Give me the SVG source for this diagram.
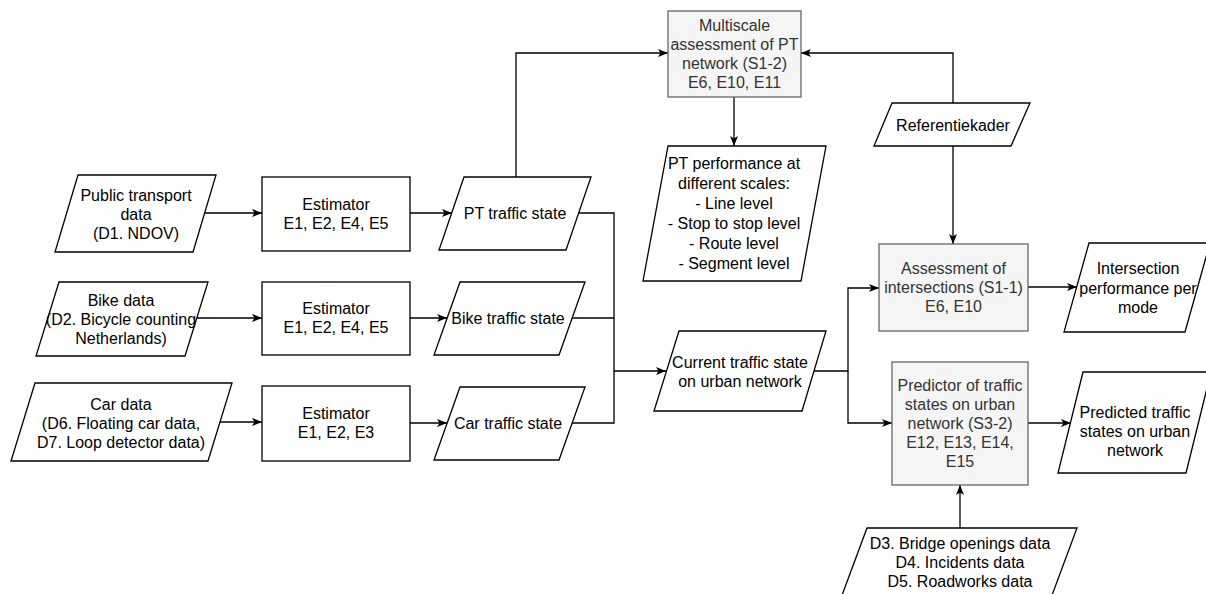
<svg xmlns="http://www.w3.org/2000/svg" width="1206" height="594" viewBox="0 0 1206 594">
  <style>
    .shape { fill: #ffffff; stroke: #000000; stroke-width: 1.3; }
    .proc { fill: #f5f5f5; stroke: #666666; stroke-width: 1.3; }
    .label { font-family: "Liberation Sans", Arial, sans-serif; font-size: 16px; fill: #000000; text-anchor: middle; }
    .label-gray { font-family: "Liberation Sans", Arial, sans-serif; font-size: 16px; fill: #333333; text-anchor: middle; }
    .edge { fill: none; stroke: #000000; stroke-width: 1.3; }
  </style>
  <defs>
    <marker id="arrow" viewBox="0 0 10 8" refX="10" refY="4" markerWidth="10" markerHeight="8" markerUnits="userSpaceOnUse" orient="auto">
      <path d="M0,0 L10,4 L0,8 L2.5,4 Z" fill="#000000"/>
    </marker>
  </defs>
  <rect width="1206" height="594" fill="#ffffff"/>

  <!-- connectors -->
  <g id="connectors">
    <path class="edge" d="M205,213 H262" marker-end="url(#arrow)"/>
    <path class="edge" d="M197,318 H262" marker-end="url(#arrow)"/>
    <path class="edge" d="M220,422 H262" marker-end="url(#arrow)"/>
    <path class="edge" d="M410,213 H452" marker-end="url(#arrow)"/>
    <path class="edge" d="M410,318 H447" marker-end="url(#arrow)"/>
    <path class="edge" d="M410,423 H447" marker-end="url(#arrow)"/>
    <path class="edge" d="M516,177 V53 H668" marker-end="url(#arrow)"/>
    <path class="edge" d="M579,213 H614 V371 H666" marker-end="url(#arrow)"/>
    <path class="edge" d="M572,318 H614"/>
    <path class="edge" d="M572,423 H614 V371"/>
    <path class="edge" d="M734,97 V146" marker-end="url(#arrow)"/>
    <path class="edge" d="M953,103 V53 H801" marker-end="url(#arrow)"/>
    <path class="edge" d="M953,146 V244" marker-end="url(#arrow)"/>
    <path class="edge" d="M814,371 H848 V288 H879" marker-end="url(#arrow)"/>
    <path class="edge" d="M848,371 V423 H892" marker-end="url(#arrow)"/>
    <path class="edge" d="M1028,287 H1077" marker-end="url(#arrow)"/>
    <path class="edge" d="M1028,423 H1071" marker-end="url(#arrow)"/>
    <path class="edge" d="M960,528 V485" marker-end="url(#arrow)"/>
  </g>

  <!-- data sources -->
  <g id="pt-data">
    <polygon class="shape" points="78,175 216,175 193,252 55,252"/>
    <text class="label" x="136" y="201">Public transport</text>
    <text class="label" x="136" y="220">data</text>
    <text class="label" x="136" y="239">(D1. NDOV)</text>
  </g>
  <g id="bike-data">
    <polygon class="shape" points="59,282 208,282 185,356 36,356"/>
    <text class="label" x="121" y="306">Bike data</text>
    <text class="label" x="121" y="325">(D2. Bicycle counting</text>
    <text class="label" x="121" y="344">Netherlands)</text>
  </g>
  <g id="car-data">
    <polygon class="shape" points="35,383 232,383 208,461 11,461"/>
    <text class="label" x="121" y="410">Car data</text>
    <text class="label" x="121" y="429">(D6. Floating car data,</text>
    <text class="label" x="121" y="448">D7. Loop detector data)</text>
  </g>

  <!-- estimators -->
  <g id="estimator-pt">
    <rect class="shape" x="262" y="177" width="148" height="74"/>
    <text class="label" x="336" y="210">Estimator</text>
    <text class="label" x="336" y="229">E1, E2, E4, E5</text>
  </g>
  <g id="estimator-bike">
    <rect class="shape" x="262" y="282" width="148" height="73"/>
    <text class="label" x="336" y="314">Estimator</text>
    <text class="label" x="336" y="333">E1, E2, E4, E5</text>
  </g>
  <g id="estimator-car">
    <rect class="shape" x="262" y="386" width="148" height="75"/>
    <text class="label" x="336" y="419">Estimator</text>
    <text class="label" x="336" y="438">E1, E2, E3</text>
  </g>

  <!-- traffic states -->
  <g id="pt-state">
    <polygon class="shape" points="464,177 591,177 566,250 439,250"/>
    <text class="label" x="515" y="219">PT traffic state</text>
  </g>
  <g id="bike-state">
    <polygon class="shape" points="460,282 585,282 559,355 434,355"/>
    <text class="label" x="508" y="324">Bike traffic state</text>
  </g>
  <g id="car-state">
    <polygon class="shape" points="460,387 585,387 559,460 434,460"/>
    <text class="label" x="508" y="429">Car traffic state</text>
  </g>

  <!-- PT network assessment -->
  <g id="multiscale">
    <rect class="proc" x="668" y="11" width="133" height="86"/>
    <text class="label-gray" x="734.5" y="31">Multiscale</text>
    <text class="label-gray" x="734.5" y="50">assessment of PT</text>
    <text class="label-gray" x="734.5" y="69">network (S1-2)</text>
    <text class="label-gray" x="734.5" y="88">E6, E10, E11</text>
  </g>
  <g id="pt-performance">
    <polygon class="shape" points="668,146 826,146 801,281 643,281"/>
    <text class="label" x="734" y="169">PT performance at</text>
    <text class="label" x="734" y="189">different scales:</text>
    <text class="label" x="734" y="209">- Line level</text>
    <text class="label" x="734" y="229">- Stop to stop level</text>
    <text class="label" x="734" y="249">- Route level</text>
    <text class="label" x="734" y="269">- Segment level</text>
  </g>
  <g id="referentiekader">
    <polygon class="shape" points="892,103 1030,103 1011,146 874,146"/>
    <text class="label" x="953" y="131">Referentiekader</text>
  </g>

  <!-- urban network -->
  <g id="current-state">
    <polygon class="shape" points="679,331 826,331 802,411 654,411"/>
    <text class="label" x="740" y="368">Current traffic state</text>
    <text class="label" x="740" y="387">on urban network</text>
  </g>
  <g id="intersections">
    <rect class="proc" x="879" y="244" width="149" height="87"/>
    <text class="label-gray" x="953.5" y="274">Assessment of</text>
    <text class="label-gray" x="953.5" y="293">intersections (S1-1)</text>
    <text class="label-gray" x="953.5" y="312">E6, E10</text>
  </g>
  <g id="intersection-performance">
    <polygon class="shape" points="1089,243 1210,243 1185,332 1064,332"/>
    <text class="label" x="1138" y="274">Intersection</text>
    <text class="label" x="1138" y="294">performance per</text>
    <text class="label" x="1138" y="313">mode</text>
  </g>
  <g id="predictor">
    <rect class="proc" x="892" y="362" width="136" height="123"/>
    <text class="label-gray" x="960" y="391">Predictor of traffic</text>
    <text class="label-gray" x="960" y="410">states on urban</text>
    <text class="label-gray" x="960" y="429">network (S3-2)</text>
    <text class="label-gray" x="960" y="448">E12, E13, E14,</text>
    <text class="label-gray" x="960" y="467">E15</text>
  </g>
  <g id="predicted-states">
    <polygon class="shape" points="1083,372 1211,372 1186,473 1058,473"/>
    <text class="label" x="1135" y="418">Predicted traffic</text>
    <text class="label" x="1135" y="437">states on urban</text>
    <text class="label" x="1135" y="456">network</text>
  </g>
  <g id="external-data">
    <polygon class="shape" points="867,528 1077,528 1051,598 841,598"/>
    <text class="label" x="960" y="549">D3. Bridge openings data</text>
    <text class="label" x="960" y="568">D4. Incidents data</text>
    <text class="label" x="960" y="587">D5. Roadworks data</text>
  </g>
</svg>
